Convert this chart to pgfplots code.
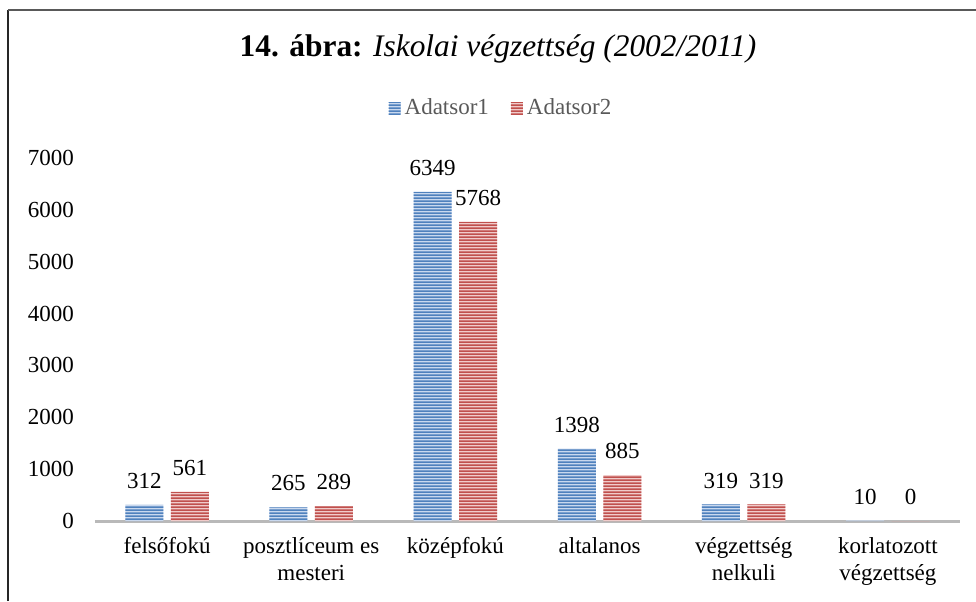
\documentclass[border=0pt]{standalone}
\usepackage{fontspec}
\setmainfont{Liberation Serif}
\usepackage{pgfplots}
\pgfplotsset{compat=1.18}
\usetikzlibrary{patterns}
\definecolor{blueD}{HTML}{4F81BD}
\definecolor{blueL}{HTML}{C9D8EE}
\definecolor{redD}{HTML}{C0504D}
\definecolor{redL}{HTML}{F0CBCA}
\definecolor{legtext}{HTML}{595959}
% wide tile so the stripes show no vertical seams inside a bar
\pgfdeclarepatternformonly{hstripes}{\pgfpointorigin}{\pgfpoint{200pt}{1.7pt}}{\pgfpoint{200pt}{1.7pt}}{%
  \pgfpathrectangle{\pgfpoint{-1pt}{0pt}}{\pgfpoint{202pt}{0.9pt}}\pgfusepath{fill}}

\begin{document}
\begin{tikzpicture}
\path[use as bounding box] (0,0) rectangle (488pt,300.5pt);
\draw[line width=0.9pt, black!85] (4pt,0) -- (4pt,295.5pt);
\draw[line width=0.9pt, black!65] (4pt,295.5pt) -- (488pt,295.5pt);
\node at (249pt,276pt) {\fontsize{15.7}{18}\selectfont\textbf{14. ábra:} \textit{Iskolai végzettség (2002/2011)}};
\begin{axis}[
  at={(47.5pt,40pt)}, anchor=south west,
  scale only axis, width=432.5pt, height=181.5pt,
  ybar=3.75pt, bar width=19pt,
  xmin=-0.5, xmax=5.5, ymin=0, ymax=7000,
  xtick={0,...,5},
  xticklabels={felsőfokú,{posztlíceum es\\mesteri},középfokú,altalanos,{végzettség\\nelkuli},{korlatozott\\végzettség}},
  ytick={0,1000,...,7000},
  major tick length=0pt,
  axis lines*=left,
  x axis line style={-,gray!55,line width=1.5pt},
  y axis line style={draw=none},
  /pgf/number format/1000 sep={},
  /pgf/number format/assume math mode=true,
  tick label style={font=\fontsize{11.5}{13.5}\selectfont, black},
  x tick label style={align=center, yshift=-4.5pt},
  y tick label style={xshift=-7pt},
  nodes near coords,
  every node near coord/.append style={font=\fontsize{11.5}{13}\selectfont, black, yshift=4.5pt},
  legend columns=-1,
  legend style={at={(0.4705,1.1377)}, anchor=center, draw=none, fill=none,
    font=\fontsize{11.5}{13}\selectfont, text=legtext,
    /tikz/every even column/.append style={column sep=9pt}},
  legend image code/.code={\draw[#1,draw=none] (0pt,-3pt) rectangle (6pt,3pt);},
]
\addplot[fill=blueL, draw=none,
  postaction={pattern=hstripes, pattern color=blueD}]
  coordinates {(0,312) (1,265) (2,6349) (3,1398) (4,319) (5,10)};
\addplot[fill=redL, draw=none,
  postaction={pattern=hstripes, pattern color=redD}]
  coordinates {(0,561) (1,289) (2,5768) (3,885) (4,319) (5,0)};
\legend{Adatsor1,Adatsor2}
\end{axis}
\end{tikzpicture}
\end{document}
